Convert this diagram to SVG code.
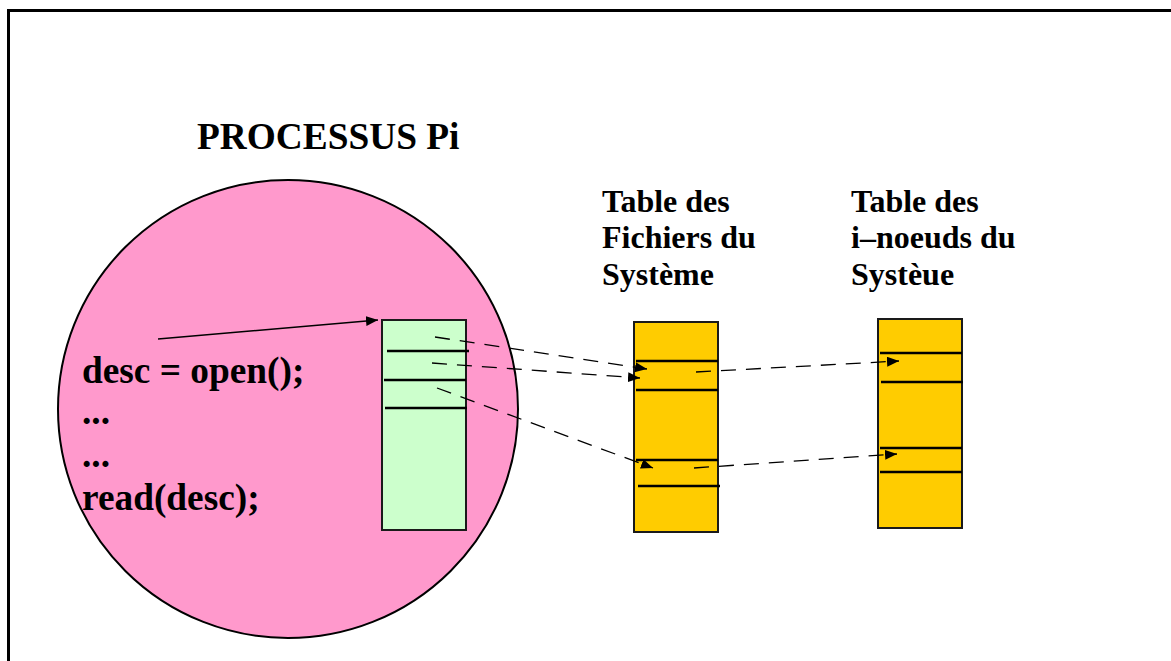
<svg xmlns="http://www.w3.org/2000/svg" width="1171" height="661" viewBox="0 0 1171 661">
<defs>
<style>
.t{font-family:"Liberation Serif","Times New Roman",serif;font-weight:bold;fill:#000}
.big{font-size:37.33px}
.lab{font-size:32px}
.box{stroke:#1a1a1a;stroke-width:2}
.sep{stroke:#000;stroke-width:2.5}
.dash{stroke:#000;stroke-width:1.3;fill:none;stroke-dasharray:15 10}
.solid{stroke:#000;stroke-width:1.5;fill:none}
</style>
<marker id="ah" viewBox="0 0 12 10" refX="12" refY="5" markerWidth="12" markerHeight="10" markerUnits="userSpaceOnUse" orient="auto">
<path d="M0,0 L12,5 L0,10 Z" fill="#000"/>
</marker>
</defs>
<rect x="0" y="0" width="1171" height="661" fill="#fff"/>
<path d="M8.5,661 L8.5,10.5 L1171,10.5" fill="none" stroke="#000" stroke-width="3"/>
<g id="process">
<ellipse cx="288" cy="409" rx="230" ry="229" fill="#ff99cc" stroke="#000" stroke-width="2"/>
<text class="t big" x="197" y="149">PROCESSUS Pi</text>
<text class="t big" x="82" y="383">desc = open();</text>
<text class="t big" x="82" y="424">...</text>
<text class="t big" x="82" y="467">...</text>
<text class="t big" x="82" y="510">read(desc);</text>
</g>
<g id="desc-table">
<rect class="box" x="382" y="320" width="84" height="210" fill="#ccffcc"/>
<line class="sep" x1="387" y1="351" x2="469" y2="351"/>
<line class="sep" x1="384" y1="380" x2="466" y2="380"/>
<line class="sep" x1="385" y1="408" x2="467" y2="408"/>
</g>
<g id="file-table">
<text class="t lab" x="602" y="212">Table des</text>
<text class="t lab" x="602" y="248">Fichiers du</text>
<text class="t lab" x="602" y="285">Système</text>
<rect class="box" x="634" y="322" width="84" height="210" fill="#ffcc00"/>
<line class="sep" x1="636" y1="361" x2="718" y2="361"/>
<line class="sep" x1="636" y1="390" x2="718" y2="390"/>
<line class="sep" x1="636" y1="460" x2="718" y2="460"/>
<line class="sep" x1="638" y1="486" x2="720" y2="486"/>
</g>
<g id="inode-table">
<text class="t lab" x="851" y="212">Table des</text>
<text class="t lab" x="851" y="248">i–noeuds du</text>
<text class="t lab" x="851" y="285">Systèue</text>
<rect class="box" x="878" y="319" width="84" height="209" fill="#ffcc00"/>
<line class="sep" x1="880" y1="353" x2="962" y2="353"/>
<line class="sep" x1="881" y1="382" x2="963" y2="382"/>
<line class="sep" x1="880" y1="448" x2="962" y2="448"/>
<line class="sep" x1="880" y1="472" x2="962" y2="472"/>
</g>
<g id="connectors">
<line class="solid" x1="158" y1="339" x2="378" y2="320" marker-end="url(#ah)"/>
<line class="dash" x1="435" y1="337" x2="647" y2="369" marker-end="url(#ah)"/>
<line class="dash" x1="432" y1="363" x2="640" y2="378" marker-end="url(#ah)"/>
<line class="dash" x1="437" y1="388" x2="653" y2="468" marker-end="url(#ah)"/>
<line class="dash" x1="696" y1="372" x2="899" y2="361" marker-end="url(#ah)"/>
<line class="dash" x1="694" y1="468" x2="897" y2="454" marker-end="url(#ah)"/>
</g>
</svg>
